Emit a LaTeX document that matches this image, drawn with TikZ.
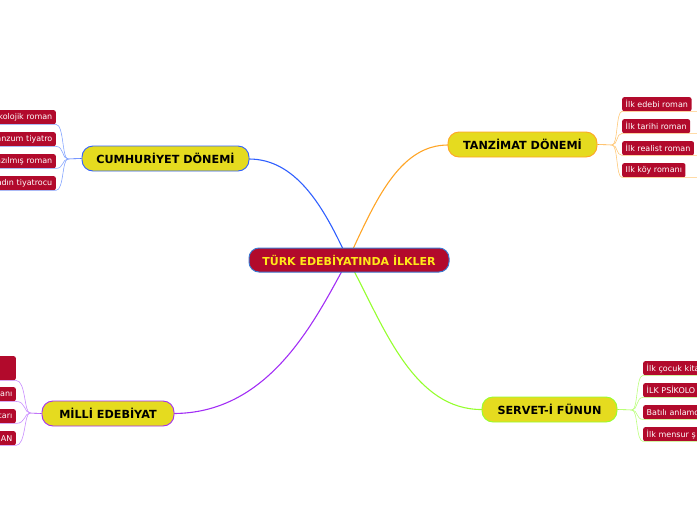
\documentclass[tikz,border=0pt]{standalone}
\usepackage{fontspec}
\setmainfont{DejaVu Sans}
\definecolor{crim}{HTML}{B20A2C}
\definecolor{yfill}{HTML}{E5DB1F}
\definecolor{gtext}{HTML}{FFE81A}
\definecolor{cblue}{HTML}{2F5FFF}
\definecolor{corange}{HTML}{FFA526}
\definecolor{cpurple}{HTML}{A22EF5}
\definecolor{cgreen}{HTML}{95FF2E}
\definecolor{lblue}{HTML}{86A6FF}
\definecolor{lorange}{HTML}{FFC878}
\definecolor{lpurple}{HTML}{C88CFF}
\definecolor{lgreen}{HTML}{BCFF7E}
\definecolor{rootborder}{HTML}{3C78D0}
\begin{document}
\begin{tikzpicture}[x=1pt,y=-1pt,
  rootbox/.style={draw=rootborder, fill=crim, rounded corners=10pt, minimum width=200pt, minimum height=24pt, inner sep=0pt, font=\bfseries\fontsize{11}{13}\selectfont, text=gtext, line width=1pt},
  branchbox/.style={fill=yfill, rounded corners=11pt, minimum height=25pt, inner sep=0pt, font=\bfseries\fontsize{11.2}{13}\selectfont, line width=0.9pt},
  leafbox/.style={fill=crim, rounded corners=2pt, minimum height=14pt, inner ysep=0pt, inner xsep=3.5pt, text=white, font=\fontsize{8}{9.5}\selectfont},
  maincurve/.style={line width=1.1pt},
  subline/.style={line width=0.6pt}]
\useasboundingbox (0,0) rectangle (697,520);
\clip (0,0) rectangle (697,520);

% main curves (drawn first, under the nodes)
\coordinate (rb) at (343,249);
\coordinate (ro) at (353,249);
\coordinate (rp) at (342,271);
\coordinate (rg) at (354,271);
\coordinate (cumE) at (249,159);
\coordinate (tanW) at (448,145);
\coordinate (milE) at (174,413.5);
\coordinate (serW) at (482,409.5);
\draw[maincurve, cblue] (cumE) .. controls (295,159) and (322,205) .. (rb);
\draw[maincurve, corange] (tanW) .. controls (402,145) and (378,195) .. (ro);
\draw[maincurve, cpurple] (milE) .. controls (265,413) and (310,330) .. (rp);
\draw[maincurve, cgreen] (serW) .. controls (415,410) and (385,330) .. (rg);

% central node
\node[rootbox] (root) at (349,260) {TÜRK EDEBİYATINDA İLKLER};

% branch nodes
\node[branchbox, draw=corange, minimum width=149pt] (tan) at (522.5,144.5) {TANZİMAT DÖNEMİ};
\node[branchbox, draw=cblue, minimum width=167pt] (cum) at (165.5,158.5) {CUMHURİYET DÖNEMİ};
\node[branchbox, draw=cpurple, minimum width=132pt] (mil) at (108,413.5) {MİLLİ EDEBİYAT};
\node[branchbox, draw=cgreen, minimum width=135pt] (ser) at (549.5,409.5) {SERVET-İ FÜNUN};

% Tanzimat leaves
\coordinate (tj) at (612,145);
\draw[subline, corange] (tan.east) -- (tj);
\node[leafbox, anchor=north west] (t1) at (622,97) {İlk edebi roman};
\node[leafbox, anchor=north west] (t2) at (622,119) {İlk tarihi roman};
\node[leafbox, anchor=north west] (t3) at (622,141) {İlk realist roman};
\node[leafbox, anchor=north west] (t4) at (622,163) {Ilk köy romanı};
\foreach \n in {t1,t2,t3,t4}{
  \draw[subline, lorange] (tj) .. controls (618,145) and (616,0|-\n.south west) .. (\n.south west) -- ++(80,0);
}

% Cumhuriyet leaves
\coordinate (cj) at (68,159);
\draw[subline, cblue] (cum.west) -- (cj);
\node[leafbox, anchor=north east, text width=70pt, align=right] (c1) at (56,110) {kolojik roman};
\node[leafbox, anchor=north east, text width=70pt, align=right] (c2) at (56,132) {anzum tiyatro};
\node[leafbox, anchor=north east, text width=70pt, align=right] (c3) at (56,154) {yazılmış roman};
\node[leafbox, anchor=north east, text width=70pt, align=right] (c4) at (56,176) {kadın tiyatrocu};
\foreach \n in {c1,c2,c3,c4}{
  \draw[subline, lblue] (cj) .. controls (62,159) and (64,0|-\n.south east) .. (\n.south east) -- ++(-80,0);
}

% Milli Edebiyat leaves
\coordinate (mj) at (30,413);
\draw[subline, cpurple] (mil.west) -- (mj);
\node[leafbox, anchor=north east, minimum width=40pt, minimum height=24pt] (m0) at (16,356) {};
\node[leafbox, anchor=north east, text width=30pt, align=right] (m1) at (16,387) {anı};
\node[leafbox, anchor=north east, text width=30pt, align=right] (m2) at (16,409) {tarı};
\node[leafbox, anchor=north east, text width=30pt, align=right] (m3) at (16,431) {AN};
\foreach \n in {m0,m1,m2,m3}{
  \draw[subline, lpurple] (mj) .. controls (24,413) and (26,0|-\n.south east) .. (\n.south east) -- ++(-40,0);
}

% Servet-i Funun leaves
\coordinate (sj) at (632,410);
\draw[subline, cgreen] (ser.east) -- (sj);
\node[leafbox, anchor=north west, text width=70pt, align=left] (s1) at (643,361) {İlk çocuk kita};
\node[leafbox, anchor=north west, text width=70pt, align=left] (s2) at (643,383) {İLK PSİKOLO};
\node[leafbox, anchor=north west, text width=70pt, align=left] (s3) at (643,405) {Batılı anlamd};
\node[leafbox, anchor=north west, text width=70pt, align=left] (s4) at (643,427) {İlk mensur ş};
\foreach \n in {s1,s2,s3,s4}{
  \draw[subline, lgreen] (sj) .. controls (638,410) and (636,0|-\n.south west) .. (\n.south west) -- ++(80,0);
}
\end{tikzpicture}
\end{document}
